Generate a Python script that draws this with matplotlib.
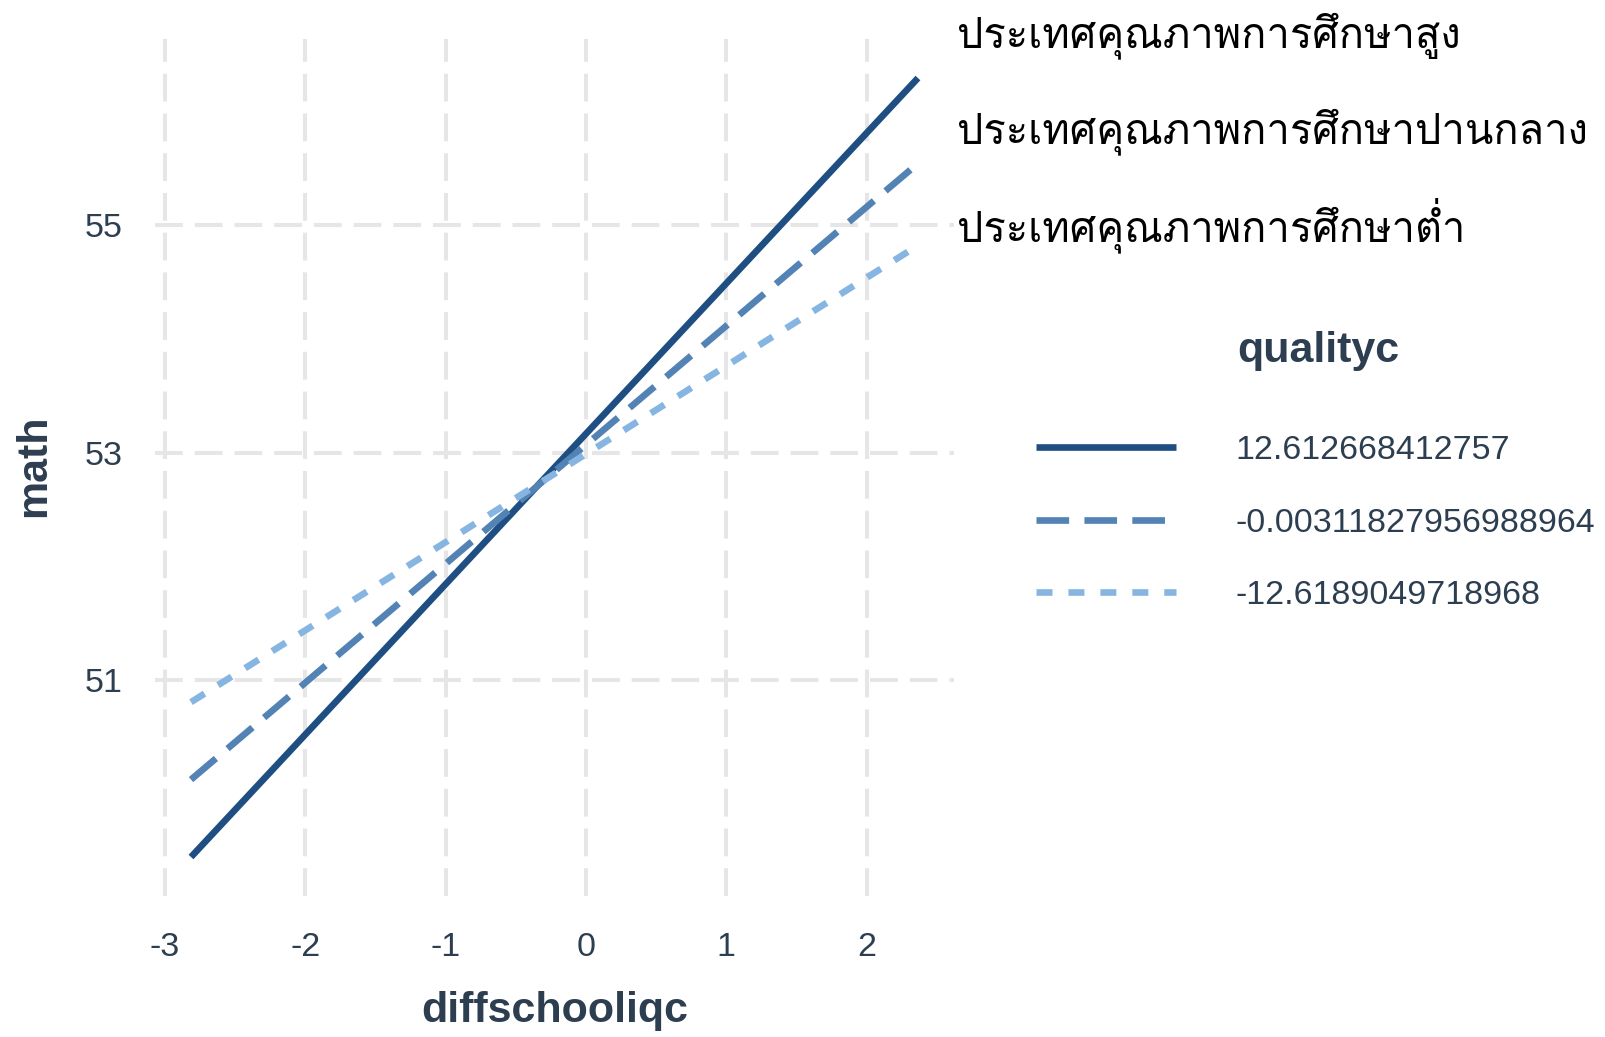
import matplotlib
matplotlib.use("Agg")
import matplotlib.pyplot as plt

plt.rcParams['font.family'] = ['Liberation Sans', 'DejaVu Sans']
plt.rcParams['lines.scale_dashes'] = False
plt.rcParams['axes.unicode_minus'] = False

# predicted math scores at the ends of the diffschooliqc range
diffschooliqc = [-2.815, 2.366]
math_high = [49.45, 56.29]
math_mid = [50.13, 55.54]
math_low = [50.81, 54.82]

qualityc_labels = ['12.612668412757', '-0.00311827956988964', '-12.6189049718968']
thai_labels = ['ประเทศคุณภาพการศึกษาสูง',
               'ประเทศคุณภาพการศึกษาปานกลาง',
               'ประเทศคุณภาพการศึกษาต่ำ']

txt = '#2c3e50'
colors = ['#1f4f82', '#5383b4', '#86b5e1']
styles = ['-', (0, (23.5, 11)), (0, (11.5, 11.5))]

fig = plt.figure(figsize=(16.06, 10.37), dpi=100)
ax = fig.add_axes([0.0963, 0.136, 0.4979, 0.8263])

series = [math_high, math_mid, math_low]
for y, c, ls, lab in zip(series, colors, styles, qualityc_labels):
    ax.plot(diffschooliqc, y, color=c, linestyle=ls, linewidth=4.8,
            solid_capstyle='butt', dash_capstyle='butt', label=lab)

# 5% padding like ggplot's default expansion
xr = diffschooliqc[1] - diffschooliqc[0]
ymin = min(min(s) for s in series)
ymax = max(max(s) for s in series)
yr = ymax - ymin
ax.set_xlim(diffschooliqc[0] - 0.05 * xr, diffschooliqc[1] + 0.05 * xr)
ax.set_ylim(ymin - 0.05 * yr, ymax + 0.05 * yr)

ax.set_xticks([-3, -2, -1, 0, 1, 2])
ax.set_yticks([51, 53, 55])
ax.grid(True, color='#e6e6e6', linewidth=2.9, linestyle=(0, (20, 8.6)))
ax.set_axisbelow(True)
for s in ax.spines.values():
    s.set_visible(False)
ax.tick_params(length=0, labelsize=24.5, labelcolor=txt)
ax.tick_params(axis='x', pad=26)
ax.tick_params(axis='y', pad=23)

ax.set_xlabel('diffschooliqc', fontsize=31, fontweight='bold', color=txt, va='center')
ax.xaxis.set_label_coords(0.5, -0.134)
ax.set_ylabel('math', fontsize=31, fontweight='bold', color=txt, va='center')
ax.yaxis.set_label_coords(-0.151, 0.502)

# Thai group labels to the right of the panel
thai_y = [56.66, 55.82, 55.0]
for t, yy in zip(thai_labels, thai_y):
    ax.text(1.003, yy, t, transform=ax.get_yaxis_transform(), fontsize=30,
            family=['Loma', 'DejaVu Sans'], color='black', va='center',
            ha='left', clip_on=False)

fig.text(1237 / 1606, 1 - 351 / 1037, 'qualityc', fontsize=31,
         fontweight='bold', color=txt, va='center', ha='left')
leg = ax.legend(loc='center left', bbox_to_anchor=(1036 / 1606, 1 - 523 / 1037),
                bbox_transform=fig.transFigure, frameon=False, fontsize=24.5,
                handlelength=4.1, handletextpad=1.75, labelspacing=1.22,
                borderpad=0, borderaxespad=0)
for t in leg.get_texts():
    t.set_color(txt)

fig.savefig('out.png', dpi=100)
